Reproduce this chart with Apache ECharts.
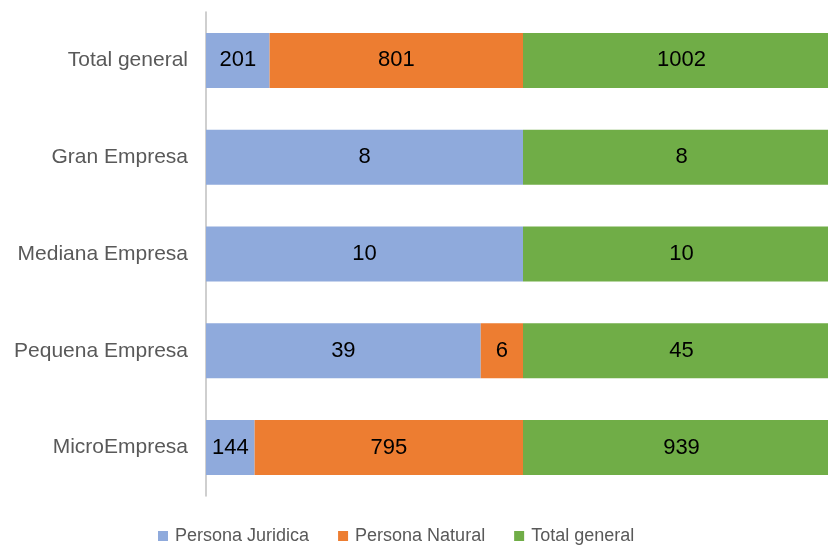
<!DOCTYPE html>
<html><head><meta charset="utf-8">
<script src="https://cdn.jsdelivr.net/npm/echarts@6/dist/echarts.min.js"></script>
<style>html,body{margin:0;padding:0;background:#fff;overflow:hidden}#c{width:840px;height:545px}</style>
</head><body><div id="c"></div>
<script>
const categories = ['MicroEmpresa', 'Pequena Empresa', 'Mediana Empresa', 'Gran Empresa', 'Total general'];
const seriesNames = ['Persona Juridica', 'Persona Natural', 'Total general'];
const juridica = [144, 39, 10, 8, 201];
const natural = [795, 6, 0, 0, 801];
const total = [939, 45, 10, 8, 1002];
const colors = ['#8FAADC', '#ED7D31', '#70AD47'];

const raw = [juridica, natural, total];
const sums = categories.map((c, i) => juridica[i] + natural[i] + total[i]);

const chart = echarts.init(document.getElementById('c'), null, {renderer: 'canvas'});
chart.setOption({
  animation: false,
  textStyle: {fontFamily: 'Liberation Sans, Arial, sans-serif'},
  grid: {left: 206, top: 12, height: 484, right: 0},
  xAxis: {type: 'value', min: 0, max: 1, show: false},
  yAxis: {
    type: 'category', data: categories,
    axisTick: {show: false},
    axisLine: {lineStyle: {color: '#BFBFBF', width: 1.5}},
    axisLabel: {color: '#595959', fontSize: 21, margin: 18}
  },
  legend: {
    left: 158, top: 527, padding: 0, itemWidth: 10, itemHeight: 10, itemGap: 29,
    icon: 'rect',
    textStyle: {color: '#595959', fontSize: 18, padding: [0, 0, 0, 2]},
    data: seriesNames
  },
  series: seriesNames.map((name, k) => ({
    name, type: 'bar', stack: 's', barWidth: 55,
    itemStyle: {color: colors[k]},
    label: {
      show: true, position: 'inside', color: '#000', fontSize: 22,
      formatter: p => p.data.raw ? String(p.data.raw) : ''
    },
    data: raw[k].map((v, i) => ({value: v / sums[i], raw: v}))
  }))
});
</script></body></html>
